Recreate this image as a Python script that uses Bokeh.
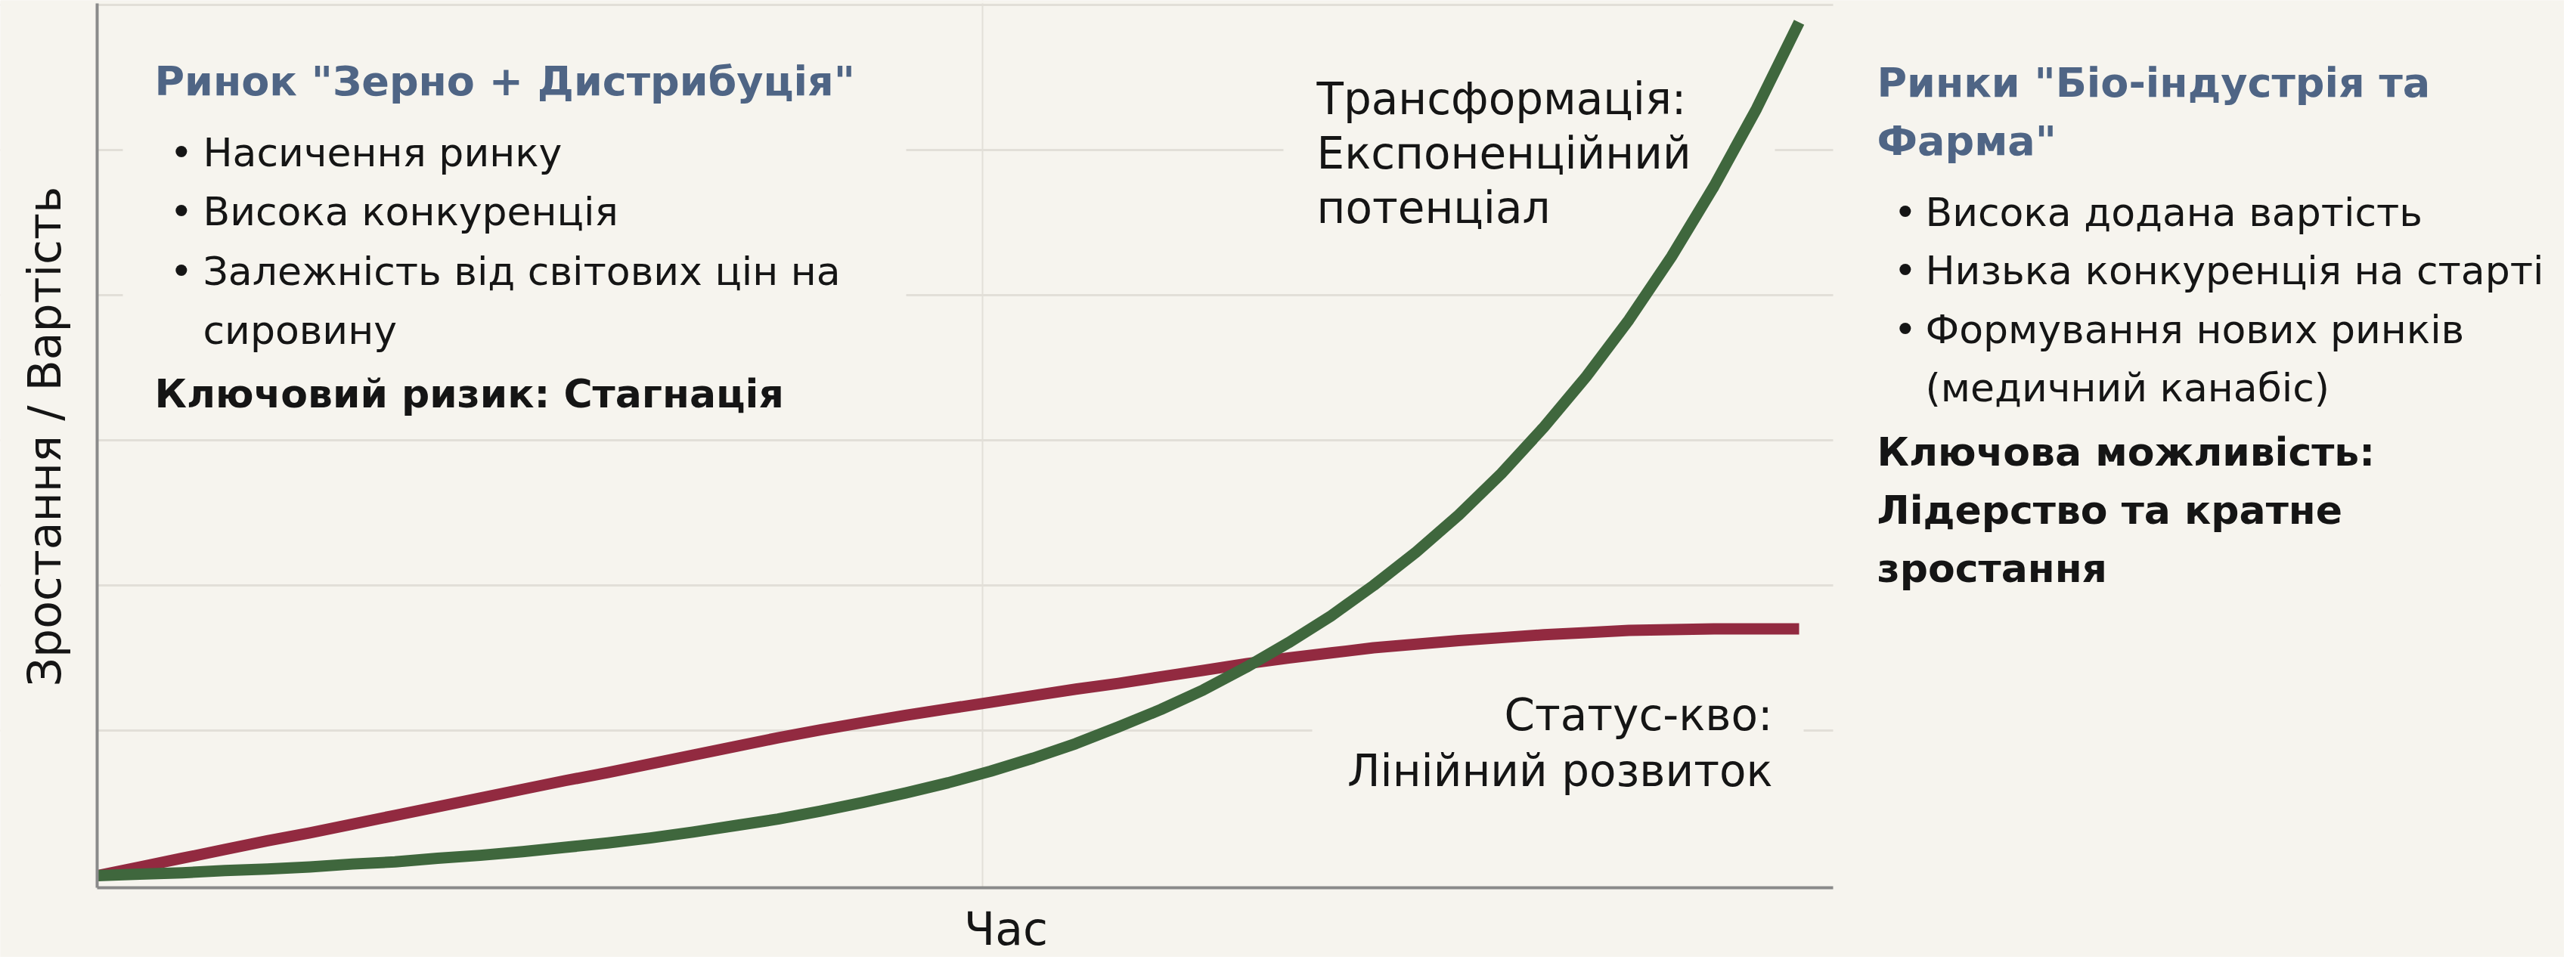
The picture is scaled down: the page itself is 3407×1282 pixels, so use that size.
import math
from bokeh.plotting import figure
from bokeh.models import Range1d, FixedTicker, Label, BoxAnnotation
from bokeh.embed import file_html
from bokeh.resources import INLINE

# ---------------- data ----------------
time_years = [0.0, 0.25, 0.5, 0.75, 1.0, 1.25, 1.5, 1.75, 2.0, 2.25, 2.5,
              2.75, 3.0, 3.25, 3.5, 3.75, 4.0, 4.25, 4.5, 4.75, 5.0,
              5.25, 5.5, 5.75, 6.0, 6.25, 6.5, 6.75, 7.0, 7.25, 7.5,
              7.75, 8.0, 8.25, 8.5, 8.75, 9.0, 9.25, 9.5, 9.75, 10.0]
status_quo = [0.0, 1.2, 2.4, 3.6, 4.8, 5.9, 7.1, 8.3, 9.5, 10.7, 11.9,
              13.1, 14.2, 15.4, 16.6, 17.8, 19.0, 20.1, 21.1, 22.1, 23.0,
              23.9, 24.8, 25.7, 26.5, 27.4, 28.3, 29.2, 30.0, 30.7, 31.4,
              31.9, 32.4, 32.8, 33.2, 33.5, 33.8, 33.9, 34.0, 34.0, 34.0]
transformation = [0.0, 0.2, 0.4, 0.7, 0.9, 1.2, 1.6, 1.9, 2.4, 2.8, 3.3,
                  3.9, 4.5, 5.2, 6.0, 6.9, 7.8, 8.9, 10.1, 11.4, 12.8,
                  14.4, 16.2, 18.2, 20.5, 22.9, 25.6, 28.7, 32.1, 35.8, 40.0,
                  44.6, 49.7, 55.4, 61.8, 68.8, 76.6, 85.3, 95.0, 105.7, 117.6]

y_grid_values = [20, 40, 60, 80, 100, 120]
x_grid_values = [5.2]

x_title = "Час"
y_title = "Зростання / Вартість"

left_title = 'Ринок "Зерно + Дистрибуція"'
left_bullets = [["Насичення ринку"], ["Висока конкуренція"],
                ["Залежність від світових цін на", "сировину"]]
left_key = ["Ключовий ризик: Стагнація"]

right_title = ['Ринки "Біо-індустрія та', 'Фарма"']
right_bullets = [["Висока додана вартість"], ["Низька конкуренція на старті"],
                 ["Формування нових ринків", "(медичний канабіс)"]]
right_key = ["Ключова можливість:", "Лідерство та кратне", "зростання"]

growth_label = ["Трансформація:", "Експоненційний", "потенціал"]
linear_label = ["Статус-кво:", "Лінійний розвиток"]

# ---------------- style ----------------
BG = "#F6F4EE"
FONT = "DejaVu Sans"
RED = "#922A40"
GREEN = "#3F673D"
TITLE_C = "#4F6585"
INK = "#151515"
GRID_C = "#E2DFD8"

W, H = 3391, 1266


# reference-pixel -> data helpers (used for layout / annotation placement)
def fx(X):
    return (X - 136) / 225.1


def fy(Y):
    return (1166 - Y) / 9.6


# plotting area (axes extent) in data units
X0, X1 = 0.0, 10.2
Y0, Y1 = -1.67, 120.2

p = figure(width=W, height=H, output_backend="svg", toolbar_location=None,
           x_range=Range1d(fx(8), fx(8 + W)), y_range=Range1d(fy(8 + H), fy(8)),
           min_border_left=0, min_border_right=0,
           min_border_top=0, min_border_bottom=0)
p.background_fill_color = BG
p.border_fill_color = BG
p.outline_line_color = None

p.xaxis.fixed_location = Y0
p.xaxis.bounds = (X0, X1)
p.yaxis.fixed_location = X0
p.yaxis.bounds = (Y0, Y1)
for ax in (p.xaxis[0], p.yaxis[0]):
    ax.ticker = FixedTicker(ticks=[])
    ax.major_tick_line_color = None
    ax.minor_tick_line_color = None
    ax.major_label_text_font_size = "0px"
    ax.axis_line_color = "#8A8A8A"
    ax.axis_line_width = 4

p.xgrid.ticker = FixedTicker(ticks=x_grid_values)
p.xgrid.grid_line_color = GRID_C
p.xgrid.grid_line_width = 2
p.ygrid.ticker = FixedTicker(ticks=y_grid_values)
p.ygrid.grid_line_color = GRID_C
p.ygrid.grid_line_width = 3


def mask(**kw):
    p.add_layout(BoxAnnotation(fill_color=BG, fill_alpha=1.0, line_color=None,
                               level="underlay", **kw))


# keep the grid inside the axes rectangle
mask(right=X0)
mask(left=X1)
mask(bottom=Y1)
mask(top=Y0)


def box(x0, x1, y0, y1):
    mask(left=fx(x0), right=fx(x1), top=fy(y0), bottom=fy(y1))


# text panels hide the grid behind them
box(170, 1206, 40, 565)
box(1705, 2355, 70, 300)
box(1743, 2393, 895, 1050)

p.line(time_years, status_quo, line_width=15, line_color=RED,
       line_cap="butt", line_join="round")
p.line(time_years, transformation, line_width=15, line_color=GREEN,
       line_cap="butt", line_join="round")


def txt(X, Y, s, size, bold=False, color=INK, align="left",
        baseline="alphabetic", angle=0.0):
    p.add_layout(Label(x=fx(X), y=fy(Y), text=s, text_font=FONT,
                       text_font_size=f"{size}px",
                       text_font_style="bold" if bold else "normal",
                       text_color=color, text_align=align,
                       text_baseline=baseline, angle=angle))


# left panel
txt(212, 115, left_title, 54, bold=True, color=TITLE_C)
y = 209
for item in left_bullets:
    txt(232, y, "•", 52)
    for line in item:
        txt(276, y, line, 52)
        y += 78.5
for line in left_key:
    txt(212, y + 5, line, 52, bold=True)
    y += 78.5

# right panel
for line, yy in zip(right_title, [117, 194]):
    txt(2490, yy, line, 54, bold=True, color=TITLE_C)
y = 288
for item in right_bullets:
    txt(2512, y, "•", 52)
    for line in item:
        txt(2554, y, line, 52)
        y += 77.5
y = 605
for line in right_key:
    txt(2490, y, line, 52, bold=True)
    y += 77

# curve annotations
for i, line in enumerate(growth_label):
    txt(1749, 138 + 72 * i, line, 58)
for i, line in enumerate(linear_label):
    txt(2352, 953 + 74 * i, line, 58, align="right")

# axis titles
txt(66, 585, y_title, 60, align="center", baseline="middle", angle=math.pi / 2)
txt(1338, 1236, x_title, 60, align="center")

open("out.html", "w").write(file_html(p, INLINE))
